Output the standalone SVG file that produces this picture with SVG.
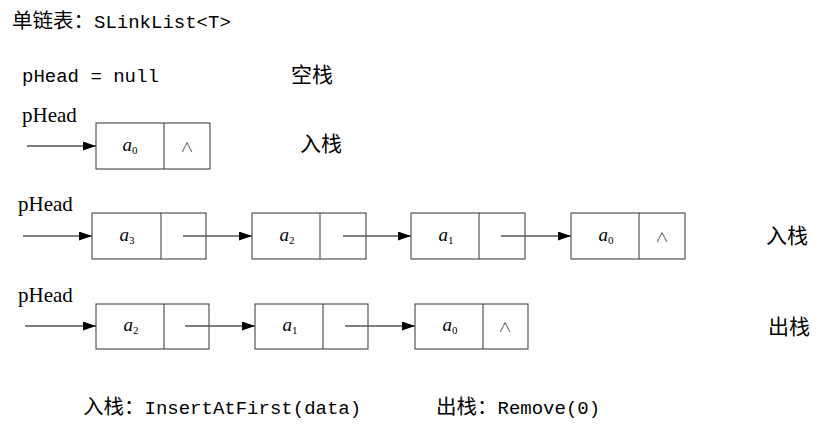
<svg xmlns="http://www.w3.org/2000/svg" width="835" height="430" viewBox="0 0 835 430">
<style>
.mono{font-family:"Liberation Mono","Noto Sans CJK SC",monospace;font-size:19px;fill:#000}
.c{font-family:"Noto Sans CJK SC",sans-serif;font-size:20.5px}
.cn{font-family:"Noto Sans CJK SC",sans-serif;font-size:21px;fill:#000}
.ph{font-family:"Liberation Serif",serif;font-size:21px;fill:#000}
.box{fill:#fff;stroke:#333;stroke-width:1}
.div{stroke:#333;stroke-width:1}
.a{font-family:"Liberation Serif",serif;font-size:19px;font-style:italic;fill:#000;text-anchor:middle}
.sub{font-size:11px;font-style:normal}
.nil{font-family:"Noto Sans CJK SC",sans-serif;font-size:13px;font-weight:300;fill:#000;text-anchor:middle}
.ln{stroke:#555;stroke-width:1.3;fill:none;marker-end:url(#ah)}
</style>
<defs>
<marker id="ah" markerUnits="userSpaceOnUse" markerWidth="14" markerHeight="10" refX="13" refY="4.5" orient="auto">
<path d="M0,0 L13,4.5 L0,9 z" fill="#000"/>
</marker>
</defs>
<rect width="835" height="430" fill="#fff"/>
<g id="labels">
<text class="mono" x="12" y="28"><tspan class="c">单链表：</tspan>SLinkList&lt;T&gt;</text>
<text class="mono" x="22" y="82">pHead = null</text>
<text class="cn" x="291" y="82">空栈</text>
<text class="ph" x="22" y="122">pHead</text>
<text class="cn" x="300" y="151">入栈</text>
<text class="ph" x="18" y="211">pHead</text>
<text class="cn" x="766" y="243">入栈</text>
<text class="ph" x="18" y="302">pHead</text>
<text class="cn" x="768" y="334">出栈</text>
<text class="mono" x="83" y="414"><tspan class="c">入栈：</tspan>InsertAtFirst(data)</text>
<text class="mono" x="436" y="414"><tspan class="c">出栈：</tspan>Remove(0)</text>
</g>
<g id="r1n0"><rect class="box" x="96" y="123" width="114" height="46"/><line class="div" x1="164" y1="123" x2="164" y2="169"/><text class="a" x="130" y="151">a<tspan class="sub" dy="3">0</tspan></text><text class="nil" x="187" y="151">∧</text></g>
<g id="r2n3"><rect class="box" x="92" y="213" width="114" height="46"/><line class="div" x1="161" y1="213" x2="161" y2="259"/><text class="a" x="127" y="241">a<tspan class="sub" dy="3">3</tspan></text></g>
<g id="r2n2"><rect class="box" x="252" y="213" width="114" height="46"/><line class="div" x1="320" y1="213" x2="320" y2="259"/><text class="a" x="287" y="241">a<tspan class="sub" dy="3">2</tspan></text></g>
<g id="r2n1"><rect class="box" x="411" y="213" width="114" height="46"/><line class="div" x1="479" y1="213" x2="479" y2="259"/><text class="a" x="446" y="241">a<tspan class="sub" dy="3">1</tspan></text></g>
<g id="r2n0"><rect class="box" x="571" y="213" width="114" height="46"/><line class="div" x1="639" y1="213" x2="639" y2="259"/><text class="a" x="606" y="241">a<tspan class="sub" dy="3">0</tspan></text><text class="nil" x="662" y="241">∧</text></g>
<g id="r3n2"><rect class="box" x="96" y="304" width="113" height="45"/><line class="div" x1="164" y1="304" x2="164" y2="349"/><text class="a" x="131" y="331">a<tspan class="sub" dy="3">2</tspan></text></g>
<g id="r3n1"><rect class="box" x="255" y="304" width="113" height="45"/><line class="div" x1="323" y1="304" x2="323" y2="349"/><text class="a" x="290" y="331">a<tspan class="sub" dy="3">1</tspan></text></g>
<g id="r3n0"><rect class="box" x="415" y="304" width="113" height="45"/><line class="div" x1="483" y1="304" x2="483" y2="349"/><text class="a" x="450" y="331">a<tspan class="sub" dy="3">0</tspan></text><text class="nil" x="505" y="331">∧</text></g>
<g id="connectors">
<line class="ln" x1="27" y1="146" x2="96" y2="146"/>
<line class="ln" x1="23" y1="236" x2="92" y2="236"/>
<line class="ln" x1="183" y1="236" x2="252" y2="236"/>
<line class="ln" x1="343" y1="236" x2="411" y2="236"/>
<line class="ln" x1="501" y1="236" x2="571" y2="236"/>
<line class="ln" x1="25" y1="326" x2="96" y2="326"/>
<line class="ln" x1="185" y1="326" x2="255" y2="326"/>
<line class="ln" x1="345" y1="326" x2="415" y2="326"/>
</g>
</svg>
